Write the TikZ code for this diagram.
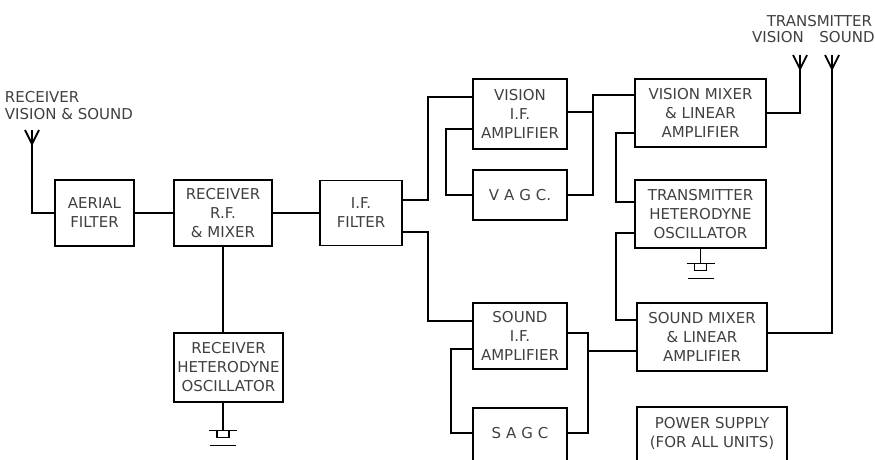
\documentclass[tikz,border=0pt]{standalone}
\usepackage{fontspec}
\setmainfont{DejaVu Sans}
\usepackage{tikz}
\usetikzlibrary{positioning}
\usetikzlibrary{calc}
\definecolor{inkgrey}{gray}{0.25}
\tikzset{
	unit/.style={draw, line width=1.5pt, align=center, text=inkgrey, inner sep=0pt, font=\fontsize{15}{19}\selectfont},
	lbl/.style={text=inkgrey, inner sep=0pt, font=\fontsize{15}{17}\selectfont},
	aerial/.pic={\draw[line width=1.8pt] (-7,0) -- (0,14) -- (7,0);},
	ground/.pic={\draw[line width=1.3pt] (-14,0) -- (14,0); \draw[line width=1.3pt] (-6,0) rectangle (6,7); \draw[line width=1.3pt] (-13,15) -- (13,15);}
}
\begin{document}
\begin{tikzpicture}[x=1pt,y=-1pt,line width=1.8pt]
			\clip (0,0) rectangle (875,459);
			\node at (94.5,213) (AF) [unit, minimum width=79, minimum height=66] {AERIAL\\FILTER};
			\node at (223,213) (RRF) [unit, minimum width=98, minimum height=66] {RECEIVER\\R.F.\\\& MIXER};
			\node at (361,213) (IFF) [unit, minimum width=82, minimum height=65] {I.F.\\FILTER};
			\node at (228.5,367.5) (RHO) [unit, minimum width=109, minimum height=69] {RECEIVER\\HETERODYNE\\OSCILLATOR};
			\node at (520,114) (VIF) [unit, minimum width=94, minimum height=70] {VISION\\I.F.\\AMPLIFIER};
			\node at (520,195) (VAGC) [unit, minimum width=94, minimum height=50] {V\,\,A\,\,G\,\,C.};
			\node at (520,336) (SIF) [unit, minimum width=94, minimum height=66] {SOUND\\I.F.\\AMPLIFIER};
			\node at (520,436) (SAGC) [unit, minimum width=94, minimum height=56, text depth=7pt] {S\,\,A\,\,G\,\,C};
			\node at (700.5,113) (VMX) [unit, minimum width=131, minimum height=68] {VISION MIXER\\\& LINEAR\\AMPLIFIER};
			\node at (700.5,214) (THO) [unit, minimum width=131, minimum height=68] {TRANSMITTER\\HETERODYNE\\OSCILLATOR};
			\node at (702,337) (SMX) [unit, minimum width=130, minimum height=68] {SOUND MIXER\\\& LINEAR\\AMPLIFIER};
			\node at (712,436) (PSU) [unit, minimum width=150, minimum height=58, text depth=8pt] {POWER SUPPLY\\(FOR ALL UNITS)};
			% aerials and their labels
			\coordinate (rxant) at (32,130);
			\coordinate (txvis) at (800,55);
			\coordinate (txsnd) at (832,55);
			\pic at (rxant) {aerial}; \pic at (txvis) {aerial}; \pic at (txsnd) {aerial};
			\node at (4,90) (rxlbl) [lbl, anchor=north west, align=left] {RECEIVER\\VISION \& SOUND};
			\node at (873,14) (txlbl) [lbl, anchor=north east] {TRANSMITTER};
			\node at (778,37) (vislbl) [lbl] {VISION};
			\node at (847,37) (sndlbl) [lbl] {SOUND};
			% receiver chain
			\draw (rxant) |- (AF.west); \draw (AF.east) -- (RRF.west); \draw (RRF.east) -- (IFF.west);
			\draw (RRF.south) -- (RRF.south |- RHO.north);
			\draw (RRF.south |- RHO.south) -- ++(0,28) pic {ground};
			\draw (IFF.east |- 0,200) -- ++(25,0) |- (VIF.west |- 0,97);
			\draw (IFF.east |- 0,232) -- ++(25,0) |- (SIF.west |- 0,321);
			% vision side
			\coordinate (vjoin) at (593,95);
			\draw (VIF.west |- 0,129) -- ++(-26,0) |- (VAGC.west);
			\draw (VIF.east |- 0,112) -- (vjoin |- 0,112);
			\draw (VAGC.east) -| (vjoin) -- (VMX.west |- vjoin);
			\draw (VMX.west |- 0,133) -- ++(-18,0) |- (THO.west |- 0,202);
			\draw (THO.west |- 0,233) -- ++(-18,0) |- (SMX.west |- 0,320);
			\draw (VMX.east) -| (txvis);
			\draw (THO.south) -- ++(0,15) pic {ground};
			% sound side
			\coordinate (sjoin) at (588,351);
			\draw (SIF.west |- 0,349) -- ++(-21,0) |- (SAGC.west |- 0,433);
			\draw (SIF.east |- 0,333) -| (sjoin) -- (SMX.west |- sjoin);
			\draw (SAGC.east |- 0,433) -| (sjoin);
			\draw (SMX.east |- 0,333) -| (txsnd);
\end{tikzpicture}
\end{document}
